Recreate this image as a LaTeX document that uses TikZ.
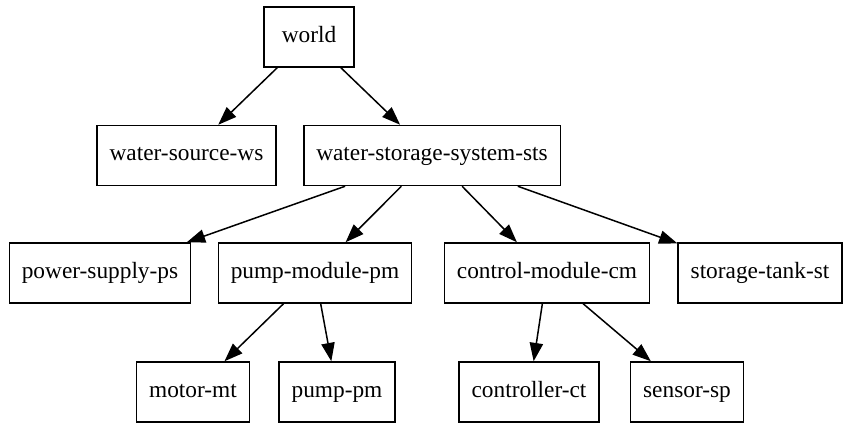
\documentclass[tikz,border=0pt]{standalone}
\usepackage{fontspec}
\setmainfont{Liberation Serif}
\usetikzlibrary{arrows.meta}

\begin{document}
\begin{tikzpicture}
  [
    x=0.6pt, y=-0.6pt,
    part/.style={draw, line width=0.9pt, font=\fontsize{14}{16}\selectfont,
      minimum height=36pt, minimum width=54pt, inner xsep=7.5pt,
      text height=9.5pt, text depth=3pt},
    edge style/.style={-{Triangle[length=11pt,width=8pt]}, line width=0.9pt}
  ]
  \useasboundingbox (0,0) rectangle (843,423);
  % top and second row
  \node[part] (world) at (309,37) {world};
  \node[part] (ws) at (186.5,155.5) {water-source-ws};
  \node[part] (sts) at (432,155.5) {water-storage-system-sts};
  % third row
  \node[part] (ps) at (100,273) {power-supply-ps};
  \node[part] (pmod) at (315,273) {pump-module-pm};
  \node[part] (cm) at (547,273) {control-module-cm};
  \node[part] (st) at (760,273) {storage-tank-st};
  % bottom row
  \node[part] (mt) at (193,392) {motor-mt};
  \node[part] (pm) at (337,392) {pump-pm};
  \node[part] (ct) at (529,392) {controller-ct};
  \node[part] (sp) at (687,392) {sensor-sp};
  \draw[edge style] (world) -- (ws);
  \draw[edge style] (world) -- (sts);
  \draw[edge style] (sts) -- (ps);
  \draw[edge style] (sts) -- (pmod);
  \draw[edge style] (sts) -- (cm);
  \draw[edge style] (sts) -- (st);
  \draw[edge style] (pmod) -- (mt);
  \draw[edge style] (pmod) -- (pm);
  \draw[edge style] (cm) -- (ct);
  \draw[edge style] (cm) -- (sp);
\end{tikzpicture}
\end{document}
